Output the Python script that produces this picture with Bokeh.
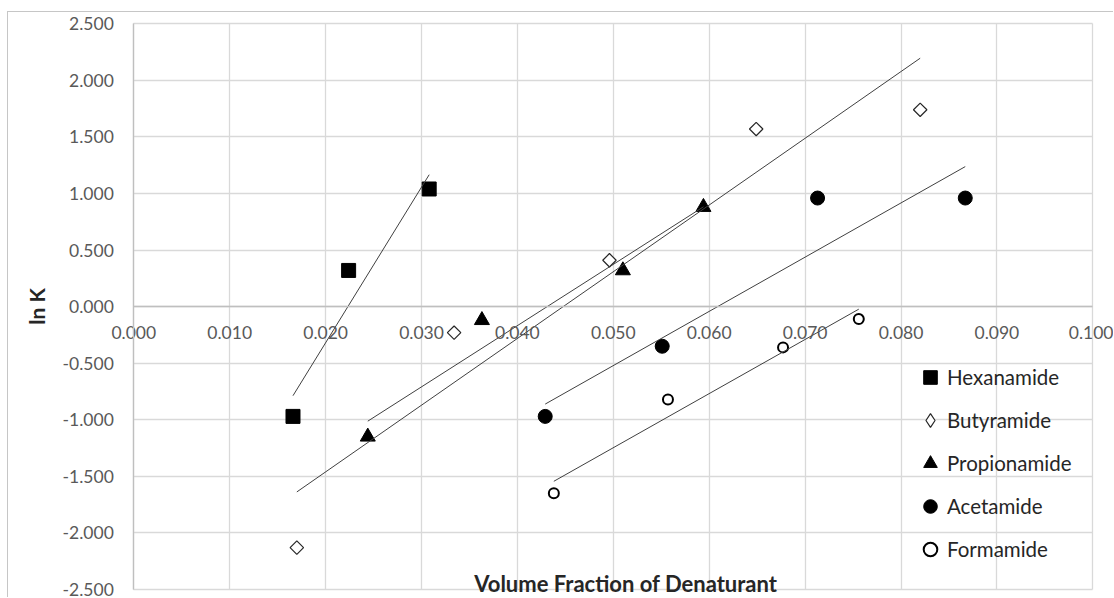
import numpy as np
from bokeh.plotting import figure
from bokeh.models import Range1d, FixedTicker, NumeralTickFormatter, Legend, LegendItem, Label
from bokeh.embed import file_html
from bokeh.resources import INLINE

# ---- data ----
hex_x = [0.0166, 0.0224, 0.0308]
hex_y = [-0.97, 0.32, 1.04]

but_x = [0.0170, 0.0334, 0.0496, 0.0649, 0.0820]
but_y = [-2.13, -0.23, 0.41, 1.57, 1.74]

pro_x = [0.0244, 0.0363, 0.0510, 0.0594]
pro_y = [-1.15, -0.12, 0.32, 0.88]

ace_x = [0.0429, 0.0551, 0.0713, 0.0867]
ace_y = [-0.97, -0.35, 0.96, 0.96]

for_x = [0.0438, 0.0557, 0.0677, 0.0756]
for_y = [-1.65, -0.82, -0.36, -0.11]

series_names = ["Hexanamide", "Butyramide", "Propionamide", "Acetamide", "Formamide"]

x_ticks = [0.0, 0.01, 0.02, 0.03, 0.04, 0.05, 0.06, 0.07, 0.08, 0.09, 0.1]
y_ticks = [-2.5, -2.0, -1.5, -1.0, -0.5, 0.0, 0.5, 1.0, 1.5, 2.0, 2.5]

x_title = "Volume Fraction of Denaturant"
y_title = "ln K"

# ---- layout (pixels) ----
W, H = 1106, 586                 # canvas, placed 8px right / 12px down by the chart border
PA_L, PA_R = 125.3, 1084.3       # plot-area edges inside the canvas
PA_T, PA_B = 11.3, 577.0
X0, X1 = x_ticks[0], x_ticks[-1]
Y0, Y1 = y_ticks[0], y_ticks[-1]
sx = (X1 - X0) / (PA_R - PA_L)
sy = (Y1 - Y0) / (PA_B - PA_T)
x_range = Range1d(X0 - PA_L * sx, X1 + (W - PA_R) * sx)
y_range = Range1d(Y0 - (H - PA_B) * sy, Y1 + PA_T * sy)

FONT = "Lato"
GRID = "#d9d9d9"
AXIS = "#bfbfbf"
TICK_TXT = "#595959"
DARK = "#262626"

p = figure(
    width=W, height=H, x_range=x_range, y_range=y_range,
    toolbar_location=None, output_backend="svg", title=None,
    min_border_left=0, min_border_right=0, min_border_top=0, min_border_bottom=0,
    styles={"margin-left": "7px", "margin-top": "11px",
            "border-left": "1px solid #c6c6c6", "border-top": "1px solid #c6c6c6"},
)
p.background_fill_color = "white"
p.border_fill_color = "white"
p.outline_line_color = None

xt = FixedTicker(ticks=x_ticks)
yt = FixedTicker(ticks=y_ticks)
p.xaxis.ticker = xt
p.xgrid.ticker = xt
p.yaxis.ticker = yt
p.ygrid.ticker = yt
p.xgrid.cross_bounds = (Y0, Y1)
p.ygrid.cross_bounds = (X0, X1)
p.grid.grid_line_color = GRID
p.grid.grid_line_width = 1.3

p.xaxis.fixed_location = 0
p.yaxis.fixed_location = 0
p.xaxis.bounds = (X0, X1)
p.yaxis.bounds = (Y0, Y1)
for ax in (p.xaxis, p.yaxis):
    ax.formatter = NumeralTickFormatter(format="0.000")
    ax.axis_line_color = AXIS
    ax.axis_line_width = 1.3
    ax.major_tick_line_color = None
    ax.minor_tick_line_color = None
    ax.major_tick_out = 0
    ax.major_tick_in = 0
    ax.major_label_text_font = FONT
    ax.major_label_text_font_size = "17.5px"
    ax.major_label_text_color = TICK_TXT

p.xaxis.major_label_standoff = 19
p.yaxis.major_label_standoff = 20
p.yaxis.axis_label = y_title
p.yaxis.axis_label_text_font = FONT
p.yaxis.axis_label_text_font_style = "bold"
p.yaxis.axis_label_text_font_size = "21px"
p.yaxis.axis_label_text_color = DARK
p.yaxis.axis_label_standoff = 10

# ---- markers ----
r_hex = p.scatter(hex_x, hex_y, marker="square", size=14, fill_color="black", line_color="black")
r_but = p.scatter(but_x, but_y, marker="square", angle=np.pi / 4, size=9.5,
                  fill_color="white", line_color=DARK, line_width=1.2)
r_pro = p.scatter(pro_x, pro_y, marker="triangle", size=15, fill_color="black", line_color="black")
r_ace = p.scatter(ace_x, ace_y, marker="circle", size=14, fill_color="black", line_color="black")
r_for = p.scatter(for_x, for_y, marker="circle", size=10, fill_color="white",
                  line_color="black", line_width=2)
# legend swatch for the diamond series (legend glyphs are drawn unrotated); zero size on the plot
r_but_key = p.scatter(but_x, but_y, marker="diamond", size=0,
                      fill_color="white", line_color=DARK, line_width=1.2)

# ---- linear trend lines (least squares over each series' x range) ----
for xs, ys in [(hex_x, hex_y), (but_x, but_y), (pro_x, pro_y), (ace_x, ace_y), (for_x, for_y)]:
    coef = np.polyfit(xs, ys, 1)
    ends = np.array([min(xs), max(xs)])
    p.line(ends, np.polyval(coef, ends), line_color="#404040", line_width=1)

legend = Legend(
    items=[LegendItem(label=n, renderers=[r]) for n, r in
           zip(series_names, [r_hex, r_but_key, r_pro, r_ace, r_for])],
    location=(905, 32),
    glyph_width=34, glyph_height=34, label_standoff=0, spacing=9,
    padding=0, margin=0,
    border_line_color=None, background_fill_alpha=0,
    label_text_font=FONT, label_text_font_size="20.5px", label_text_color=DARK,
)
p.add_layout(legend)

p.add_layout(Label(
    x=0.0513, y=Y0, text=x_title, text_font=FONT, text_font_style="bold",
    text_font_size="22px", text_color=DARK, text_align="center",
    text_baseline="alphabetic", y_offset=6,
))

open("out.html", "w").write(file_html(p, INLINE))
